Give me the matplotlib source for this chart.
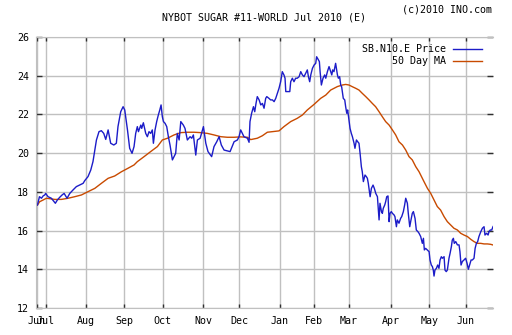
import matplotlib
matplotlib.use("Agg")
import matplotlib.pyplot as plt
from matplotlib.lines import Line2D

# NYBOT sugar #11 Jul 2010 - daily price and 50 day moving average
# x axis is trading session number counted from late June 2009

month_days = [0, 5, 27, 48, 69, 91, 111, 133, 152, 171, 194, 215, 235]
month_labels = ["Jun", "Jul", "Aug", "Sep", "Oct", "Nov", "Dec",
                "Jan", "Feb", "Mar", "Apr", "May", "Jun"]
y_ticks = [12, 14, 16, 18, 20, 22, 24, 26]

price_day = [
    0.4, 1.5, 2.6, 3.5, 4.4, 4.9, 6.2, 8.0, 9.0, 10.2,
    11.3, 12.6, 13.9, 15.0, 16.6, 18.1, 19.9, 21.7, 23.5, 25.4,
    26.3, 28.1, 29.6, 30.8, 31.8, 32.7, 34.1, 35.4, 36.7, 37.8,
    39.1, 40.5, 42.2, 43.6, 44.5, 46.0, 47.3, 48.2, 49.7, 50.9,
    52.2, 53.3,
    54.2, 55.1, 55.7, 57.0, 57.5, 58.4, 59.7, 60.6, 61.5, 62.4,
    63.3, 63.9, 64.8, 65.7, 66.6, 67.4, 68.1, 68.8, 69.4, 70.3,
    71.2, 72.1, 73.0, 74.3, 75.2, 76.1, 77.0, 78.0, 78.9, 80.3,
    81.2, 82.5, 84.0, 84.9, 85.8, 87.1, 88.0, 89.5, 91.3, 92.6,
    93.8, 95.8, 97.1, 98.6, 99.9, 101.1, 102.6, 105.9,
    108.1, 109.9, 110.8, 111.7, 112.6, 113.5, 115.4, 116.3, 116.8, 117.7,
    118.7, 119.4, 120.1, 120.8, 121.8, 122.7, 123.6, 124.5, 125.4, 126.0,
    127.2, 128.1, 129.1, 130.0, 130.9, 131.8, 132.7, 133.6, 134.5, 135.4,
    136.0, 136.4, 137.3, 138.6, 139.1, 140.0, 140.9, 141.8, 142.7, 143.7,
    144.6, 145.5, 146.4, 147.3, 148.2, 148.8, 149.5, 150.1, 151.0, 151.9,
    152.8, 153.3, 154.3, 154.8, 155.2, 155.9, 156.8, 157.7, 158.3, 159.2,
    160.1, 161.0, 161.6, 162.1, 162.8, 163.7, 164.3, 164.7, 165.2, 165.9,
    166.5,
    167.0, 167.9, 168.7, 169.2, 169.8, 170.3, 171.0, 171.6, 172.3, 172.9,
    173.8, 174.3, 175.1, 175.8, 176.5, 177.1, 177.8, 178.3, 178.9, 179.8,
    180.5, 181.1, 181.6, 182.6, 183.3, 184.2, 184.9,
    185.7, 186.6, 187.1, 187.5, 188.0, 188.8, 189.3, 189.8, 190.6, 191.1,
    191.7, 192.4, 193.0, 193.5, 194.2, 194.8, 195.7, 196.2, 197.0, 197.5,
    198.4, 199.3, 199.9, 200.8, 201.5, 202.1, 203.0, 203.5, 204.3, 204.8,
    205.7, 206.3, 207.2, 207.9, 208.8, 209.4, 210.3, 211.2, 211.8, 212.3,
    213.0, 213.9, 214.9, 215.4, 216.1, 216.7, 217.2, 217.6, 218.1, 218.9,
    219.6, 220.3, 220.9, 221.6, 222.2, 223.1, 223.6, 224.3, 224.9, 225.8,
    226.4, 227.1, 227.6, 228.2, 228.7, 229.5, 230.4, 231.3, 231.8, 232.4,
    233.1, 234.0, 234.9, 235.7, 236.4, 237.1, 237.9, 238.6, 239.5, 240.1,
    240.8, 241.5, 242.2, 243.2, 244.1, 245.0, 245.5, 246.4, 247.2, 247.7,
    248.4, 249.2, 249.9, 250.5,
]
price = [
    17.32, 17.75, 17.67, 17.79, 17.84, 17.92, 17.75, 17.67, 17.55, 17.41,
    17.58, 17.72, 17.84, 17.92, 17.67, 17.92, 18.10, 18.27, 18.35, 18.44,
    18.58, 18.79, 19.13, 19.56, 20.16, 20.68, 21.11, 21.16, 21.02, 20.71,
    21.20, 20.51, 20.42, 20.51, 21.37, 22.14, 22.40, 22.23, 21.20, 20.25,
    19.99, 20.34,
    21.02, 21.37, 21.11, 21.45, 21.28, 21.57, 21.02, 20.85, 21.11, 21.02,
    21.20, 20.51, 21.20, 21.63, 21.97, 22.23, 22.49, 21.88, 21.63, 21.54,
    21.37, 20.85, 20.42, 19.65, 19.82, 19.99, 21.02, 20.68, 21.63, 21.45,
    21.28, 20.68, 20.85, 20.77, 20.94, 19.90, 20.68, 20.77, 21.37, 20.51,
    20.08, 19.82, 20.34, 20.59, 20.85, 20.42, 20.16, 20.08,
    20.59, 20.68, 20.85, 21.20, 21.02, 20.85, 20.77, 20.56, 21.63, 22.06,
    22.40, 22.14, 22.57, 22.92, 22.75, 22.49, 22.57, 22.32, 22.83, 22.92,
    22.83, 22.75, 22.75, 22.66, 22.83, 23.09, 23.35, 23.69, 24.21, 24.04,
    23.87, 23.18, 23.18, 23.18, 23.69, 23.87, 23.69, 23.87, 23.87, 23.95,
    24.21, 24.04, 23.95, 24.12, 24.30, 23.95, 23.69, 24.04, 24.38, 24.55,
    24.64, 24.98, 24.81, 24.73, 24.21, 23.52, 23.87, 24.04, 23.87, 24.21,
    24.47, 24.21, 24.04, 24.30, 24.21, 24.64, 24.30, 24.04, 23.87, 23.95,
    23.52,
    23.43, 22.83, 22.75, 22.40, 22.06, 22.23, 21.71, 21.28, 21.02, 20.85,
    20.51, 20.25, 20.68, 20.59, 20.51, 19.99, 19.30, 19.04, 18.53, 18.87,
    18.79, 18.70, 18.44, 17.75, 18.18, 18.35, 18.18,
    17.92, 17.75, 17.06, 16.55, 17.41, 16.98, 16.89, 17.15, 17.32, 17.49,
    17.75, 17.79, 16.46, 16.89, 16.98, 16.89, 16.81, 16.72, 16.20, 16.55,
    16.38, 16.63, 16.72, 16.98, 17.32, 17.67, 17.41, 16.89, 16.20, 16.46,
    16.89, 16.98, 16.63, 16.03, 15.94, 15.86, 15.69, 15.34, 15.60, 15.00,
    15.08, 15.00, 14.91, 14.48, 14.22, 14.14, 13.96, 13.65, 13.96, 14.05,
    14.22, 14.05, 14.48, 14.65, 14.57, 14.65, 13.96, 13.88, 13.96, 14.57,
    14.83, 15.17, 15.51, 15.60, 15.34, 15.43, 15.26, 15.26, 14.91, 14.22,
    14.40, 14.48, 14.57, 14.31, 14.00, 14.22, 14.48, 14.48, 14.57, 15.08,
    15.34, 15.43, 15.69, 15.94, 16.12, 16.20, 15.77, 15.86, 15.77, 15.94,
    16.03, 16.03, 16.20, 16.29,
]

ma_day = [
    0.4, 1.6, 3.5, 5.3, 9.9, 13.5, 17.2, 20.8, 24.5, 28.1,
    31.8, 35.4, 39.1, 42.7, 46.4, 50.0, 53.3, 55.1, 58.8, 62.4,
    66.1, 68.8, 71.6, 75.2, 78.9, 82.5, 86.2, 89.8, 93.5, 97.1,
    100.8, 104.4, 108.1, 111.5, 115.4, 117.2, 120.8, 123.6, 126.3, 132.7,
    135.4, 139.1, 142.7, 145.5, 148.2, 151.9, 155.5, 158.3, 161.0, 164.7,
    167.4, 169.2, 171.0, 172.9, 174.7, 176.5, 178.3, 180.2, 182.0, 183.8,
    185.6, 187.5, 189.3, 191.1, 193.0, 194.8, 196.6, 198.4, 200.3, 202.1,
    203.9, 205.7, 207.6, 209.4, 211.2, 212.1, 214.0, 215.8, 217.6, 219.4,
    221.2, 223.1, 224.9, 226.7, 228.5, 230.4, 232.2, 234.0, 235.9, 237.7,
    239.5, 241.3, 243.2, 245.0, 246.8, 248.6, 250.5,
]
ma = [
    17.32, 17.49, 17.58, 17.67, 17.61, 17.61, 17.67, 17.75, 17.84, 18.01,
    18.18, 18.44, 18.70, 18.82, 19.04, 19.22, 19.39, 19.56, 19.82, 20.08,
    20.34, 20.68, 20.77, 20.94, 21.06, 21.08, 21.08, 21.06, 21.02, 20.94,
    20.85, 20.82, 20.82, 20.84, 20.82, 20.70, 20.77, 20.90, 21.08, 21.15,
    21.37, 21.63, 21.80, 21.97, 22.23, 22.52, 22.83, 23.00, 23.26, 23.44,
    23.52, 23.55, 23.52, 23.43, 23.35, 23.26, 23.09, 22.92, 22.75, 22.57,
    22.40, 22.14, 21.88, 21.63, 21.45, 21.20, 20.94, 20.59, 20.42, 20.16,
    19.82, 19.65, 19.30, 19.04, 18.70, 18.53, 18.18, 17.92, 17.58, 17.24,
    17.06, 16.72, 16.46, 16.29, 16.12, 16.03, 15.86, 15.77, 15.69, 15.55,
    15.43, 15.34, 15.34, 15.31, 15.31, 15.29, 15.24,
]

blue = "#1c1cc8"
orange = "#c84a00"
grid_grey = "#c0c0c0"
mono = "DejaVu Sans Mono"
fs = 7.2

fig = plt.figure(figsize=(5.12, 3.35), dpi=100)
ax = fig.add_axes([36 / 512, 27 / 335, 457 / 512, 271 / 335])

ax.plot(ma_day, ma, color=orange, lw=1.0)
ax.plot(price_day, price, color=blue, lw=1.0)

ax.set_xlim(-0.4, 249.9)
ax.set_ylim(12, 26)
ax.set_xticks(month_days)
ax.set_xticklabels(month_labels, family=mono, fontsize=fs)
ax.set_yticks(y_ticks)
ax.set_yticklabels([str(v) for v in y_ticks], family=mono, fontsize=fs)
ax.grid(True, color=grid_grey, lw=1.0)
ax.set_axisbelow(True)

ax.tick_params(axis="both", direction="in", length=3, width=1,
               color="#303030", top=True, right=True)
ax.tick_params(axis="y", pad=5)
ax.tick_params(axis="x", pad=6)
ax.tick_params(axis="y", which="major", length=4)

for side in ["left", "top", "bottom"]:
    ax.spines[side].set_color(grid_grey)
ax.spines["right"].set_visible(False)

fig.text(263.5 / 512, 1 - 17.5 / 335, "NYBOT SUGAR #11-WORLD Jul 2010 (E)",
         family=mono, fontsize=fs, ha="center", va="center")
fig.text(492 / 512, 1 - 9.5 / 335, "(c)2010 INO.com",
         family=mono, fontsize=fs, ha="right", va="center")

# legend drawn by hand so the labels sit right-aligned like the original
for row, (label, col) in enumerate([("SB.N10.E Price", blue), ("50 Day MA", orange)]):
    yy = 1 - (48.5 + row * 12.8) / 335
    fig.text(446 / 512, yy, label, family=mono, fontsize=fs, ha="right", va="center")
    fig.add_artist(Line2D([453 / 512, 482 / 512], [yy, yy], color=col, lw=1.0))

fig.savefig("out.png", dpi=100)
